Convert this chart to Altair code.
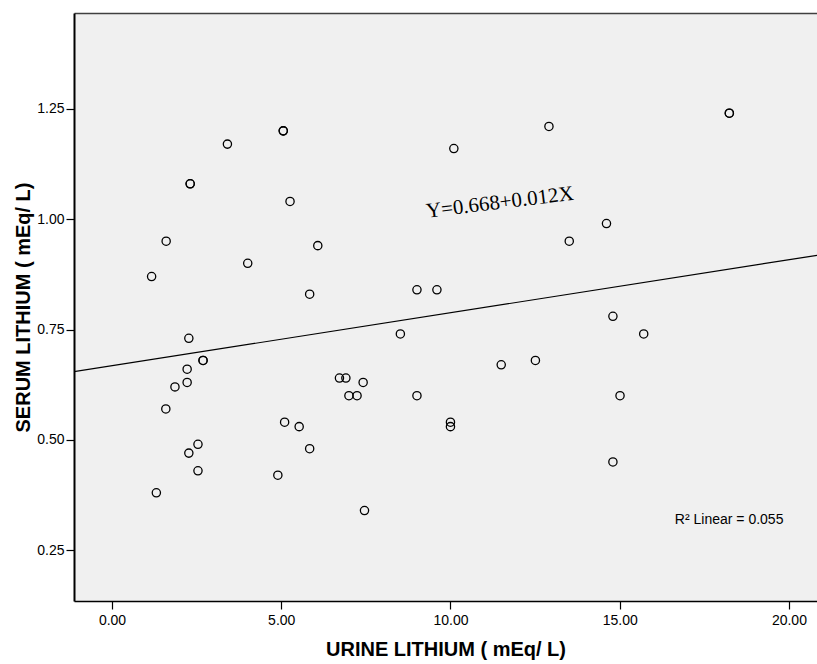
import altair as alt
import pandas as pd

# Data
urine = [1.17, 1.60, 2.31, 2.31, 3.41, 5.06, 5.06, 5.26, 6.08, 4.01, 5.84,
         2.27, 2.69, 2.69, 2.22, 2.22, 1.86, 1.59, 2.54, 2.27, 2.54, 1.31,
         5.10, 5.53, 5.84, 4.90, 6.72, 6.91, 7.42, 7.00, 7.24, 9.01, 8.52,
         7.46, 10.00, 10.00, 9.01, 9.60, 10.10, 12.91, 18.24, 18.24, 14.61,
         13.51, 14.80, 15.71, 11.50, 12.51, 15.01, 14.80]
serum = [0.87, 0.95, 1.08, 1.08, 1.17, 1.20, 1.20, 1.04, 0.94, 0.90, 0.83,
         0.73, 0.68, 0.68, 0.66, 0.63, 0.62, 0.57, 0.49, 0.47, 0.43, 0.38,
         0.54, 0.53, 0.48, 0.42, 0.64, 0.64, 0.63, 0.60, 0.60, 0.60, 0.74,
         0.34, 0.54, 0.53, 0.84, 0.84, 1.16, 1.21, 1.24, 1.24, 0.99,
         0.95, 0.78, 0.74, 0.67, 0.68, 0.60, 0.45]

x_ticks = [0, 5, 10, 15, 20]
y_ticks = [0.25, 0.50, 0.75, 1.00, 1.25]
x_domain = [-1.123, 20.83]
y_domain = [0.135, 1.467]

intercept = [0.668]
slope = [0.012]

eq_text = ["Y=0.668+0.012X"]
eq_x = [11.46]
eq_y = [1.037]

r2_text = ["R\u00b2 Linear = 0.055"]
r2_x = [16.63]
r2_y = [0.319]

pts = pd.DataFrame({"urine": urine, "serum": serum})
line_df = pd.DataFrame({"urine": x_domain,
                        "serum": [intercept[0] + slope[0] * v for v in x_domain]})
eq_df = pd.DataFrame({"urine": eq_x, "serum": eq_y, "label": eq_text})
r2_df = pd.DataFrame({"urine": r2_x, "serum": r2_y, "label": r2_text})

FONT = "Liberation Sans"

xscale = alt.Scale(domain=x_domain, nice=False, zero=False)
yscale = alt.Scale(domain=y_domain, nice=False, zero=False)

x_axis = alt.Axis(values=x_ticks, format=".2f", title="URINE LITHIUM ( mEq/ L)",
                  grid=False, domainColor="#000000", domainWidth=1.3,
                  tickColor="#000000", tickSize=8, tickWidth=1.2,
                  labelFont=FONT, labelFontSize=14, labelColor="#000000",
                  labelPadding=4, titleFont=FONT, titleFontSize=20,
                  titleFontWeight="bold", titleColor="#000000", titlePadding=12)
y_axis = alt.Axis(values=y_ticks, format=".2f", title="SERUM LITHIUM ( mEq/ L)",
                  grid=False, domainColor="#000000", domainWidth=2,
                  tickColor="#000000", tickSize=8, tickWidth=1.2,
                  labelFont=FONT, labelFontSize=14, labelColor="#000000",
                  labelPadding=2, titleFont=FONT, titleFontSize=20,
                  titleFontWeight="bold", titleColor="#000000", titlePadding=3)
top_axis = alt.Axis(orient="top", labels=False, ticks=False, grid=False,
                    domainColor="#404040", domainWidth=1.5, title=None)

points = alt.Chart(pts).mark_point(shape="circle", filled=False, color="#000000",
                                   size=68, strokeWidth=1.3, opacity=1).encode(
    x=alt.X("urine:Q", scale=xscale, axis=x_axis),
    y=alt.Y("serum:Q", scale=yscale, axis=y_axis),
)

line = alt.Chart(line_df).mark_line(color="#000000", strokeWidth=1.2, clip=True).encode(
    x=alt.X("urine:Q", scale=xscale, axis=top_axis),
    y=alt.Y("serum:Q", scale=yscale),
)

eq = alt.Chart(eq_df).mark_text(font="Liberation Serif", fontSize=21, angle=353,
                                align="center", baseline="middle",
                                color="#000000").encode(
    x=alt.X("urine:Q", scale=xscale, axis=None),
    y=alt.Y("serum:Q", scale=yscale),
    text="label:N",
)

r2 = alt.Chart(r2_df).mark_text(font=FONT, fontSize=14, align="left",
                                baseline="middle", color="#000000").encode(
    x=alt.X("urine:Q", scale=xscale, axis=None),
    y=alt.Y("serum:Q", scale=yscale),
    text="label:N",
)

chart = alt.layer(line, points, eq, r2).resolve_axis(x="independent").properties(
    width=743, height=588,
    padding={"left": 74, "top": 13, "right": 0, "bottom": 63},
    autosize=alt.AutoSizeParams(type="none"),
    background="#FFFFFF",
).configure_view(fill="#F0F0F0", stroke=None)

chart.save("out.html", embed_options={"renderer": "svg", "actions": False})
